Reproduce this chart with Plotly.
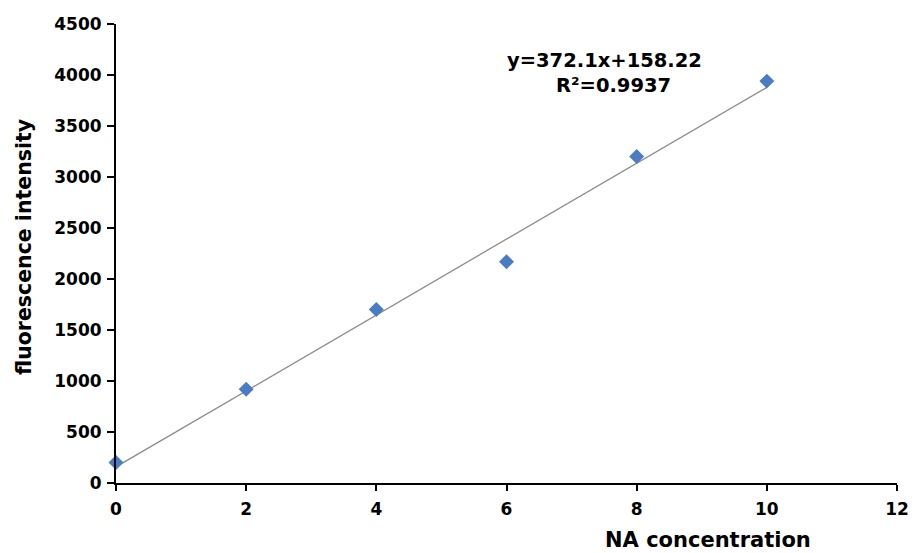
import plotly.graph_objects as go

# data
conc = [0, 2, 4, 6, 8, 10]
intensity = [200, 920, 1700, 2170, 3200, 3940]
slope = 372.1
intercept = 158.22
r2 = 0.9937
fit_x = [0, 10]
fit_y = [slope * v + intercept for v in fit_x]
x_ticks = [0, 2, 4, 6, 8, 10, 12]
y_ticks = list(range(0, 4501, 500))

wide = "DejaVu Sans, sans-serif"

L, R, T, B = 116, 15, 24, 70
PW, PH = 921 - L - R, 553 - T - B


def px(xp):
    return (xp - L) / PW


def py(yp):
    return (553 - B - yp) / PH


fig = go.Figure()
fig.add_trace(go.Scatter(x=fit_x, y=fit_y, mode="lines",
                         line=dict(color="#8c8c8c", width=1.3),
                         showlegend=False, hoverinfo="skip"))
fig.add_trace(go.Scatter(x=conc, y=intensity, mode="markers",
                         marker=dict(symbol="diamond", size=11.5, color="#4a7cc4",
                                     line=dict(width=0)),
                         showlegend=False, cliponaxis=False))

tickfont = dict(family=wide, size=17, color="black", weight="bold")
fig.update_layout(
    width=921, height=553,
    margin=dict(l=L, r=R, t=T, b=B),
    paper_bgcolor="white", plot_bgcolor="white",
    font=dict(family=wide, size=17, color="black"),
    xaxis=dict(range=[0, 12], tickvals=x_ticks,
               showgrid=False, zeroline=False, showline=True,
               linecolor="black", linewidth=2, ticks="outside",
               ticklen=6, tickwidth=2, tickcolor="black",
               tickfont=tickfont, ticklabelstandoff=4),
    yaxis=dict(range=[0, 4500], tickvals=y_ticks,
               showgrid=False, zeroline=False, showline=True,
               linecolor="black", linewidth=2, ticks="outside",
               ticklen=7, tickwidth=2, tickcolor="black",
               tickfont=tickfont, ticklabelstandoff=2),
)

fig.add_annotation(text="<b>NA concentration</b>", xref="paper", yref="paper",
                   x=px(715), y=py(553), showarrow=False, borderpad=0,
                   font=dict(family=wide, size=21, color="black"),
                   xanchor="center", yanchor="bottom")
fig.add_annotation(text="<b>fluorescence intensity</b>", xref="paper", yref="paper",
                   x=px(23), y=py(247), textangle=-90, showarrow=False,
                   font=dict(family=wide, size=20.5, color="black"),
                   xanchor="center", yanchor="middle")
fig.add_annotation(text=f"<b>y={slope}x+{intercept}</b>", xref="paper", yref="paper",
                   x=px(610), y=py(60), showarrow=False,
                   font=dict(family=wide, size=19.5, color="black"),
                   xanchor="center", yanchor="middle")
fig.add_annotation(text=f"<b>R²={r2}</b>", xref="paper", yref="paper",
                   x=px(619), y=py(85), showarrow=False,
                   font=dict(family=wide, size=19.5, color="black"),
                   xanchor="center", yanchor="middle")

fig.write_html("out.html")
